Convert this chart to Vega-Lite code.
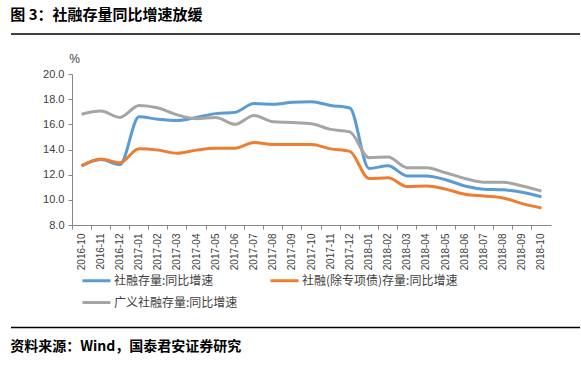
{
  "$schema": "https://vega.github.io/schema/vega-lite/v6.json",
  "padding": {"left": 10, "top": 8, "right": 0, "bottom": 0},
  "background": "white",
  "title": {"text": "图 3：社融存量同比增速放缓", "anchor": "start", "fontSize": 15, "fontWeight": "bold", "font": "Noto Sans CJK SC", "color": "#000000", "offset": 1},
  "config": {"view": {"stroke": null}},
  "spacing": 17,
  "resolve": {"legend": {"color": "independent"}, "scale": {"color": "independent", "y": "independent"}},
  "vconcat": [
    {
      "width": 569, "height": 10,
      "data": {"values": [{"edge": 0}]},
      "mark": {"type": "rule", "color": "#000000", "strokeWidth": 1.5},
      "encoding": {"y": {"field": "edge", "type": "quantitative", "scale": {"domain": [0, 1]}, "axis": null}}
    },
    {
      "width": 569, "height": 151,
      "data": {"values": [
        {"month": "2016-10", "series": "社融存量:同比增速", "value": 12.7},
        {"month": "2016-11", "series": "社融存量:同比增速", "value": 13.2},
        {"month": "2016-12", "series": "社融存量:同比增速", "value": 12.8},
        {"month": "2017-01", "series": "社融存量:同比增速", "value": 16.6},
        {"month": "2017-02", "series": "社融存量:同比增速", "value": 16.4},
        {"month": "2017-03", "series": "社融存量:同比增速", "value": 16.3},
        {"month": "2017-04", "series": "社融存量:同比增速", "value": 16.55},
        {"month": "2017-05", "series": "社融存量:同比增速", "value": 16.85},
        {"month": "2017-06", "series": "社融存量:同比增速", "value": 16.95},
        {"month": "2017-07", "series": "社融存量:同比增速", "value": 17.65},
        {"month": "2017-08", "series": "社融存量:同比增速", "value": 17.6},
        {"month": "2017-09", "series": "社融存量:同比增速", "value": 17.75},
        {"month": "2017-10", "series": "社融存量:同比增速", "value": 17.8},
        {"month": "2017-11", "series": "社融存量:同比增速", "value": 17.5},
        {"month": "2017-12", "series": "社融存量:同比增速", "value": 17.3},
        {"month": "2018-01", "series": "社融存量:同比增速", "value": 12.5},
        {"month": "2018-02", "series": "社融存量:同比增速", "value": 12.7},
        {"month": "2018-03", "series": "社融存量:同比增速", "value": 11.9},
        {"month": "2018-04", "series": "社融存量:同比增速", "value": 11.9},
        {"month": "2018-05", "series": "社融存量:同比增速", "value": 11.6},
        {"month": "2018-06", "series": "社融存量:同比增速", "value": 11.1},
        {"month": "2018-07", "series": "社融存量:同比增速", "value": 10.85},
        {"month": "2018-08", "series": "社融存量:同比增速", "value": 10.8},
        {"month": "2018-09", "series": "社融存量:同比增速", "value": 10.6},
        {"month": "2018-10", "series": "社融存量:同比增速", "value": 10.25},
        {"month": "2016-10", "series": "社融(除专项债)存量:同比增速", "value": 12.7},
        {"month": "2016-11", "series": "社融(除专项债)存量:同比增速", "value": 13.25},
        {"month": "2016-12", "series": "社融(除专项债)存量:同比增速", "value": 12.95},
        {"month": "2017-01", "series": "社融(除专项债)存量:同比增速", "value": 14.05},
        {"month": "2017-02", "series": "社融(除专项债)存量:同比增速", "value": 13.95},
        {"month": "2017-03", "series": "社融(除专项债)存量:同比增速", "value": 13.7},
        {"month": "2017-04", "series": "社融(除专项债)存量:同比增速", "value": 13.95},
        {"month": "2017-05", "series": "社融(除专项债)存量:同比增速", "value": 14.1},
        {"month": "2017-06", "series": "社融(除专项债)存量:同比增速", "value": 14.1},
        {"month": "2017-07", "series": "社融(除专项债)存量:同比增速", "value": 14.55},
        {"month": "2017-08", "series": "社融(除专项债)存量:同比增速", "value": 14.4},
        {"month": "2017-09", "series": "社融(除专项债)存量:同比增速", "value": 14.4},
        {"month": "2017-10", "series": "社融(除专项债)存量:同比增速", "value": 14.4},
        {"month": "2017-11", "series": "社融(除专项债)存量:同比增速", "value": 14.05},
        {"month": "2017-12", "series": "社融(除专项债)存量:同比增速", "value": 13.85},
        {"month": "2018-01", "series": "社融(除专项债)存量:同比增速", "value": 11.7},
        {"month": "2018-02", "series": "社融(除专项债)存量:同比增速", "value": 11.75},
        {"month": "2018-03", "series": "社融(除专项债)存量:同比增速", "value": 11.05},
        {"month": "2018-04", "series": "社融(除专项债)存量:同比增速", "value": 11.1},
        {"month": "2018-05", "series": "社融(除专项债)存量:同比增速", "value": 10.85},
        {"month": "2018-06", "series": "社融(除专项债)存量:同比增速", "value": 10.45},
        {"month": "2018-07", "series": "社融(除专项债)存量:同比增速", "value": 10.3},
        {"month": "2018-08", "series": "社融(除专项债)存量:同比增速", "value": 10.15},
        {"month": "2018-09", "series": "社融(除专项债)存量:同比增速", "value": 9.7},
        {"month": "2018-10", "series": "社融(除专项债)存量:同比增速", "value": 9.35},
        {"month": "2016-10", "series": "广义社融存量:同比增速", "value": 16.8},
        {"month": "2016-11", "series": "广义社融存量:同比增速", "value": 17.05},
        {"month": "2016-12", "series": "广义社融存量:同比增速", "value": 16.55},
        {"month": "2017-01", "series": "广义社融存量:同比增速", "value": 17.5},
        {"month": "2017-02", "series": "广义社融存量:同比增速", "value": 17.3},
        {"month": "2017-03", "series": "广义社融存量:同比增速", "value": 16.75},
        {"month": "2017-04", "series": "广义社融存量:同比增速", "value": 16.45},
        {"month": "2017-05", "series": "广义社融存量:同比增速", "value": 16.55},
        {"month": "2017-06", "series": "广义社融存量:同比增速", "value": 16.0},
        {"month": "2017-07", "series": "广义社融存量:同比增速", "value": 16.7},
        {"month": "2017-08", "series": "广义社融存量:同比增速", "value": 16.2},
        {"month": "2017-09", "series": "广义社融存量:同比增速", "value": 16.15},
        {"month": "2017-10", "series": "广义社融存量:同比增速", "value": 16.05},
        {"month": "2017-11", "series": "广义社融存量:同比增速", "value": 15.6},
        {"month": "2017-12", "series": "广义社融存量:同比增速", "value": 15.4},
        {"month": "2018-01", "series": "广义社融存量:同比增速", "value": 13.35},
        {"month": "2018-02", "series": "广义社融存量:同比增速", "value": 13.4},
        {"month": "2018-03", "series": "广义社融存量:同比增速", "value": 12.55},
        {"month": "2018-04", "series": "广义社融存量:同比增速", "value": 12.55},
        {"month": "2018-05", "series": "广义社融存量:同比增速", "value": 12.15},
        {"month": "2018-06", "series": "广义社融存量:同比增速", "value": 11.7},
        {"month": "2018-07", "series": "广义社融存量:同比增速", "value": 11.4},
        {"month": "2018-08", "series": "广义社融存量:同比增速", "value": 11.4},
        {"month": "2018-09", "series": "广义社融存量:同比增速", "value": 11.1},
        {"month": "2018-10", "series": "广义社融存量:同比增速", "value": 10.7}
      ]},
      "mark": {"type": "line", "interpolate": "monotone", "strokeWidth": 3},
      "encoding": {
        "x": {
          "field": "month", "type": "ordinal", "sort": null,
          "scale": {"type": "band", "paddingInner": 0, "paddingOuter": 0, "range": [61, 540]},
          "bandPosition": 0.5,
          "axis": {"title": null, "labelAngle": 270, "labelFontSize": 10, "labelFont": "Liberation Sans", "labelColor": "#404040", "labelPadding": 4, "tickSize": 4, "bandPosition": 0, "domainColor": "#868686", "tickColor": "#868686", "domainWidth": 1}
        },
        "y": {
          "field": "value", "type": "quantitative",
          "scale": {"domain": [8, 20], "nice": false, "zero": false},
          "axis": {"offset": -61, "values": [8, 10, 12, 14, 16, 18, 20], "format": ".1f", "grid": false, "labelFontSize": 11, "labelFont": "Liberation Sans", "labelColor": "#404040", "labelPadding": 4, "tickSize": 4, "domainColor": "#868686", "tickColor": "#868686", "title": "%", "titleAngle": 0, "titleX": 2, "titleY": -16, "titleAlign": "center", "titleBaseline": "middle", "titleFont": "Liberation Sans", "titleFontSize": 12, "titleFontWeight": "normal", "titleColor": "#404040"}
        },
        "color": {
          "field": "series", "type": "nominal",
          "scale": {"domain": ["社融存量:同比增速", "社融(除专项债)存量:同比增速", "广义社融存量:同比增速"], "range": ["#5B9BD5", "#ED7D31", "#A5A5A5"]},
          "legend": {"title": null, "orient": "none", "direction": "horizontal", "legendX": 70, "legendY": 191, "columns": 2, "columnPadding": 26, "rowPadding": -10, "padding": 0, "symbolType": "stroke", "symbolSize": 784, "symbolStrokeWidth": 3, "labelFont": "Noto Sans CJK SC", "labelFontSize": 12, "labelColor": "#404040", "labelOffset": 2}
        }
      }
    },
    {
      "width": 569, "height": 1,
      "title": {"text": "资料来源：Wind，国泰君安证券研究", "orient": "bottom", "anchor": "start", "offset": 12, "fontSize": 14, "fontWeight": "bold", "font": "Noto Sans CJK SC", "color": "#000000"},
      "data": {"values": [{"level": 0}]},
      "mark": {"type": "rule", "color": "#000000", "strokeWidth": 1.5},
      "encoding": {"y": {"field": "level", "type": "quantitative", "axis": null}}
    }
  ]
}
